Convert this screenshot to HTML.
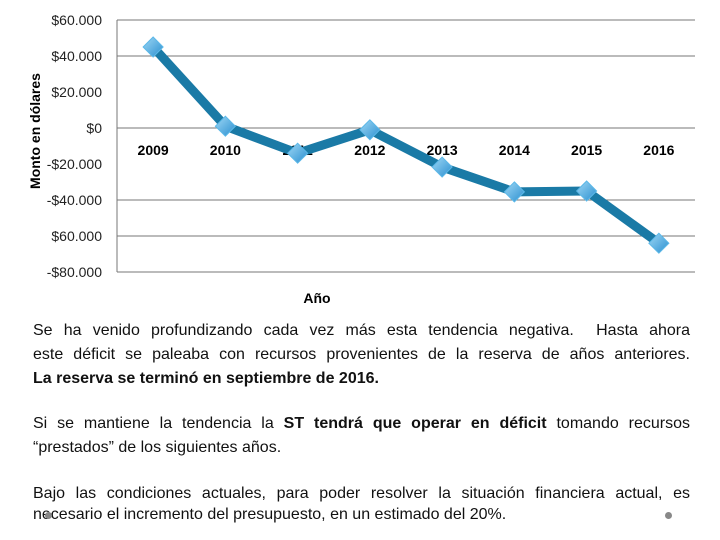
<!DOCTYPE html>
<html><head><meta charset="utf-8"><style>
body{margin:0;background:#fff;width:720px;height:540px;overflow:hidden;position:relative;font-family:"Liberation Sans",sans-serif}
.ln{position:absolute;left:33px;width:657px;font-size:16px;color:#111;text-align:justify;text-align-last:justify;white-space:nowrap;line-height:20px}
.nl{text-align-last:left}
.dot{position:absolute;width:7px;height:7px;border-radius:50%;background:#888}
</style></head><body>
<svg id="chart" width="720" height="310" style="position:absolute;left:0;top:0">
<defs><linearGradient id="mg" x1="0" y1="0" x2="1" y2="1"><stop offset="0" stop-color="#9fd8f5"/><stop offset="1" stop-color="#2a8fd0"/></linearGradient></defs>
<g id="grid"></g><g id="ylab"></g><g id="xlab"></g><g id="series"></g>
<text x="0" y="0" transform="translate(40,131) rotate(-90)" text-anchor="middle" font-size="14" font-weight="bold" fill="#000">Monto en dólares</text>
<text x="317" y="303" text-anchor="middle" font-size="14" font-weight="bold" fill="#000">Año</text>
</svg>
<div class="ln" style="top:321px">Se ha venido profundizando cada vez más esta tendencia negativa.&nbsp; Hasta ahora</div>
<div class="ln" style="top:345px">este déficit se paleaba con recursos provenientes de la reserva de años anteriores.</div>
<div class="ln nl" style="top:369px"><b>La reserva se terminó en septiembre de 2016.</b></div>
<div class="ln" style="top:414px">Si se mantiene la tendencia la <b>ST tendrá que operar en déficit</b> tomando recursos</div>
<div class="ln nl" style="top:438px">“prestados” de los siguientes años.</div>
<div class="ln" style="top:484px">Bajo las condiciones actuales, para poder resolver la situación financiera actual, es</div>
<div class="ln nl" style="top:505px">necesario el incremento del presupuesto, en un estimado del 20%.</div>
<div class="dot" style="left:45px;top:512px"></div>
<div class="dot" style="left:665px;top:512px"></div>
<script>
const categories=["2009","2010","2011","2012","2013","2014","2015","2016"];
const values=[45000,1000,-14000,-1000,-21700,-35500,-35000,-64000];
const tickValues=[60000,40000,20000,0,-20000,-40000,-60000,-80000];
const tickLabels=["$60.000","$40.000","$20.000","$0","-$20.000","-$40.000","$60.000","-$80.000"];
const gridValues=[60000,40000,0,-40000,-60000,-80000];
const NS="http://www.w3.org/2000/svg";
const L=117,R=695,T=20,B=272,vmax=60000,vmin=-80000;
const y=v=>T+(vmax-v)/(vmax-vmin)*(B-T);
const bw=(R-L)/categories.length;
const x=i=>L+bw*(i+0.5);
function mk(t,a,p){const e=document.createElementNS(NS,t);for(const k in a)e.setAttribute(k,a[k]);p.appendChild(e);return e;}
const g=document.getElementById('grid');
gridValues.forEach(v=>{const l=mk('line',{x1:L,x2:R,y1:y(v),y2:y(v),stroke:'#777','stroke-width':1},g);

});
const ax=mk('line',{x1:L,x2:L,y1:T,y2:B,stroke:'#777','stroke-width':1},g);


const yl=document.getElementById('ylab');
tickValues.forEach((v,i)=>{const t=mk('text',{x:102,y:y(v)+5,'text-anchor':'end','font-size':14,fill:'#222'},yl);t.textContent=tickLabels[i];

});
const xl=document.getElementById('xlab');
categories.forEach((c,i)=>{const t=mk('text',{x:x(i),y:155,'text-anchor':'middle','font-size':14,'font-weight':'bold',fill:'#000'},xl);t.textContent=c;

});
const s=document.getElementById('series');
const pl=mk('polyline',{points:values.map((v,i)=>x(i)+','+y(v)).join(' '),fill:'none',stroke:'#1a7aa6','stroke-width':9,'stroke-linejoin':'round'},s);


values.forEach((v,i)=>{const cx=x(i),cy=y(v),r=10;
const d=mk('polygon',{points:`${cx},${cy-r} ${cx+r},${cy} ${cx},${cy+r} ${cx-r},${cy}`,fill:'url(#mg)',stroke:'#5bb8e8','stroke-width':1},s);

});
</script>
</body></html>
